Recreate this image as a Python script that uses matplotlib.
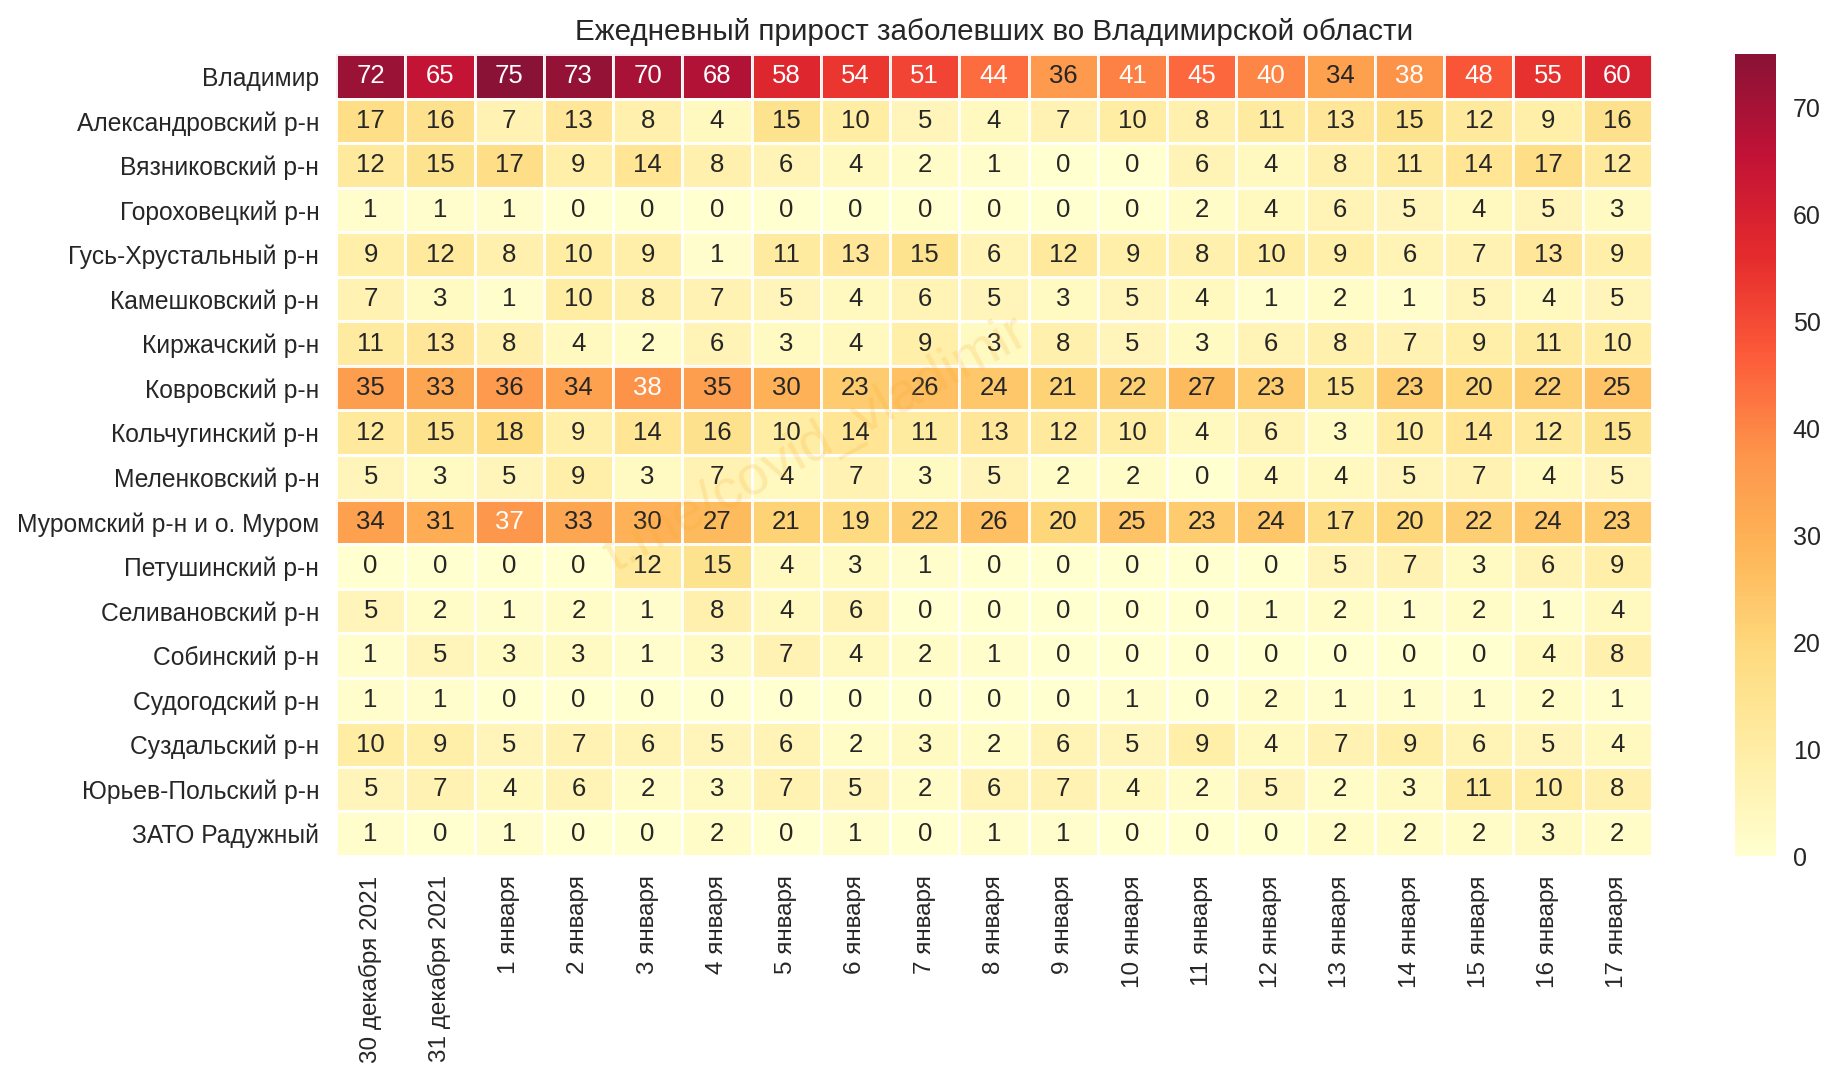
import matplotlib
matplotlib.use('Agg')
import matplotlib.pyplot as plt
from matplotlib.transforms import ScaledTranslation
import seaborn as sns
import numpy as np

districts = ['Владимир', 'Александровский р-н', 'Вязниковский р-н', 'Гороховецкий р-н',
             'Гусь-Хрустальный р-н', 'Камешковский р-н', 'Киржачский р-н', 'Ковровский р-н',
             'Кольчугинский р-н', 'Меленковский р-н', 'Муромский р-н и о. Муром',
             'Петушинский р-н', 'Селивановский р-н', 'Собинский р-н', 'Судогодский р-н',
             'Суздальский р-н', 'Юрьев-Польский р-н', 'ЗАТО Радужный']

dates = ['30 декабря 2021', '31 декабря 2021', '1 января', '2 января', '3 января', '4 января',
         '5 января', '6 января', '7 января', '8 января', '9 января', '10 января', '11 января',
         '12 января', '13 января', '14 января', '15 января', '16 января', '17 января']

vladimir = [72, 65, 75, 73, 70, 68, 58, 54, 51, 44, 36, 41, 45, 40, 34, 38, 48, 55, 60]
aleksandrov = [17, 16, 7, 13, 8, 4, 15, 10, 5, 4, 7, 10, 8, 11, 13, 15, 12, 9, 16]
vyazniki = [12, 15, 17, 9, 14, 8, 6, 4, 2, 1, 0, 0, 6, 4, 8, 11, 14, 17, 12]
gorokhovets = [1, 1, 1, 0, 0, 0, 0, 0, 0, 0, 0, 0, 2, 4, 6, 5, 4, 5, 3]
gus = [9, 12, 8, 10, 9, 1, 11, 13, 15, 6, 12, 9, 8, 10, 9, 6, 7, 13, 9]
kameshkovo = [7, 3, 1, 10, 8, 7, 5, 4, 6, 5, 3, 5, 4, 1, 2, 1, 5, 4, 5]
kirzhach = [11, 13, 8, 4, 2, 6, 3, 4, 9, 3, 8, 5, 3, 6, 8, 7, 9, 11, 10]
kovrov = [35, 33, 36, 34, 38, 35, 30, 23, 26, 24, 21, 22, 27, 23, 15, 23, 20, 22, 25]
kolchugino = [12, 15, 18, 9, 14, 16, 10, 14, 11, 13, 12, 10, 4, 6, 3, 10, 14, 12, 15]
melenki = [5, 3, 5, 9, 3, 7, 4, 7, 3, 5, 2, 2, 0, 4, 4, 5, 7, 4, 5]
murom = [34, 31, 37, 33, 30, 27, 21, 19, 22, 26, 20, 25, 23, 24, 17, 20, 22, 24, 23]
petushki = [0, 0, 0, 0, 12, 15, 4, 3, 1, 0, 0, 0, 0, 0, 5, 7, 3, 6, 9]
selivanovo = [5, 2, 1, 2, 1, 8, 4, 6, 0, 0, 0, 0, 0, 1, 2, 1, 2, 1, 4]
sobinka = [1, 5, 3, 3, 1, 3, 7, 4, 2, 1, 0, 0, 0, 0, 0, 0, 0, 4, 8]
sudogda = [1, 1, 0, 0, 0, 0, 0, 0, 0, 0, 0, 1, 0, 2, 1, 1, 1, 2, 1]
suzdal = [10, 9, 5, 7, 6, 5, 6, 2, 3, 2, 6, 5, 9, 4, 7, 9, 6, 5, 4]
yuryev = [5, 7, 4, 6, 2, 3, 7, 5, 2, 6, 7, 4, 2, 5, 2, 3, 11, 10, 8]
raduzhny = [1, 0, 1, 0, 0, 2, 0, 1, 0, 1, 1, 0, 0, 0, 2, 2, 2, 3, 2]

values = np.array([vladimir, aleksandrov, vyazniki, gorokhovets, gus, kameshkovo, kirzhach, kovrov,
                   kolchugino, melenki, murom, petushki, selivanovo, sobinka, sudogda, suzdal,
                   yuryev, raduzhny])

sns.set_style('white')
plt.rcParams['font.family'] = ['Liberation Sans', 'DejaVu Sans']

W, H = 1837, 1080
fig = plt.figure(figsize=(W / 100, H / 100), dpi=100)
ax = fig.add_axes([336 / W, 1 - 856 / H, (1652 - 336) / W, (856 - 54) / H])
cax = fig.add_axes([1735 / W, 1 - 856 / H, (1776 - 1735) / W, (856 - 54) / H])

sns.heatmap(values, ax=ax, cbar_ax=cax, cmap='YlOrRd', vmin=0, vmax=75, alpha=0.93,
            annot=True, fmt='d', annot_kws={'fontsize': 18.5},
            linewidths=1.8, linecolor='white',
            xticklabels=dates, yticklabels=districts)

ax.set_title('Ежедневный прирост заболевших во Владимирской области', fontsize=21.3,
             color='.15', pad=10)
ax.tick_params(axis='x', labelsize=17.5, labelcolor='.15', length=0, pad=14, labelrotation=90)
ax.tick_params(axis='y', labelsize=17.7, labelcolor='.15', length=0, pad=12, labelrotation=0)

# y labels sit a little lower than the cell centres
shift = ScaledTranslation(0, -2.5 / 100, fig.dpi_scale_trans)
for label in ax.get_yticklabels():
    label.set_transform(label.get_transform() + shift)

cax.tick_params(labelsize=18, labelcolor='.15', length=0, pad=12)
cax.set_yticks([0, 10, 20, 30, 40, 50, 60, 70])

# watermark over the cells
fig.text(816 / W, 1 - 445 / H, 't.me/covid_vladimir', fontsize=40, color='#f5a623', alpha=0.18,
         rotation=29, ha='center', va='center')

fig.savefig('out.png', dpi=100)
